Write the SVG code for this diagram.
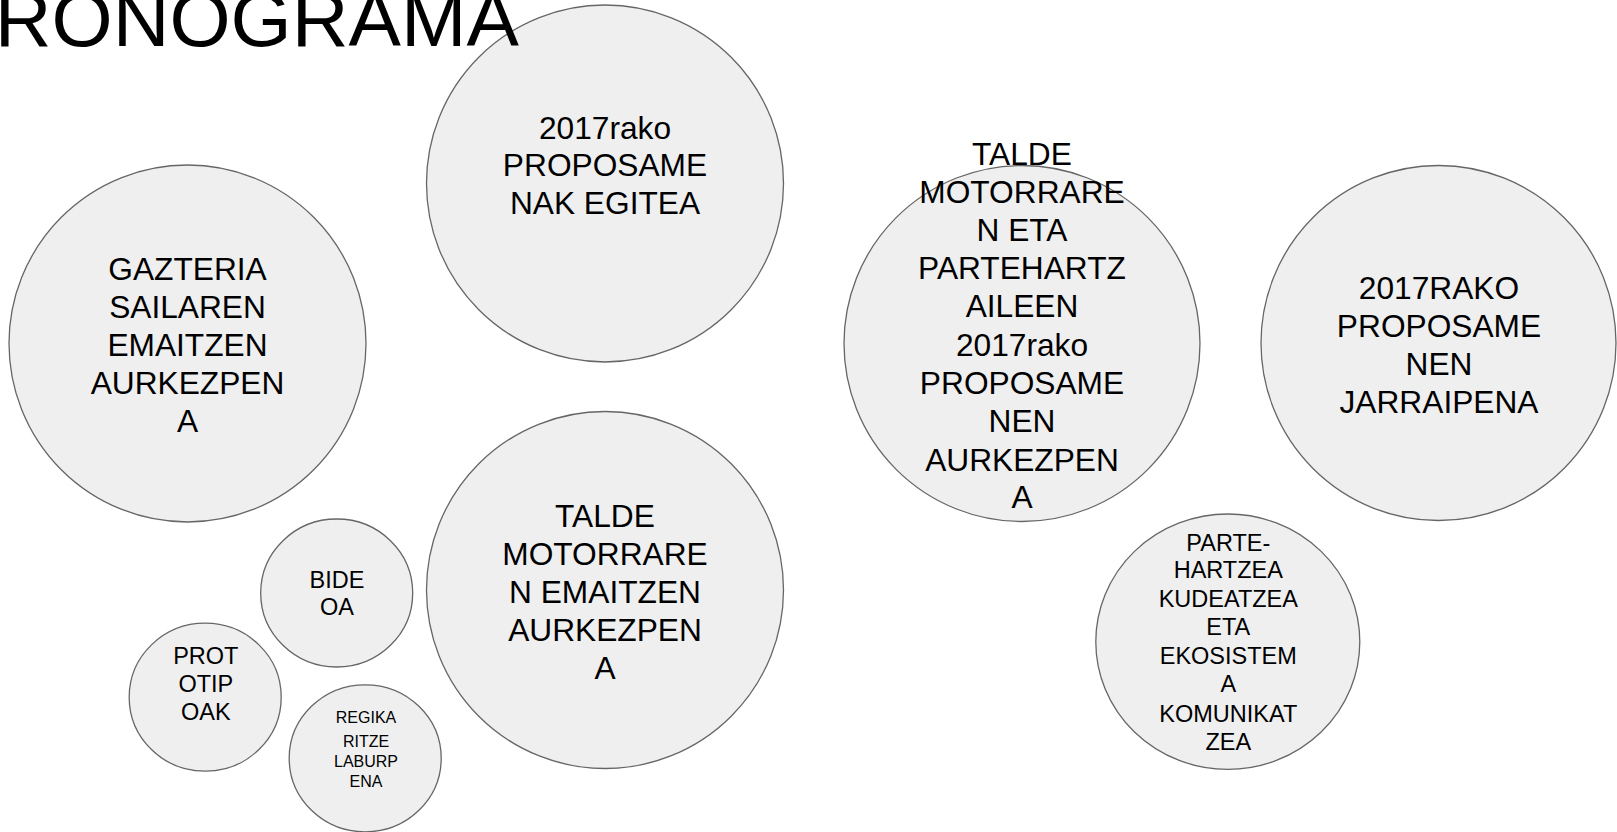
<svg xmlns="http://www.w3.org/2000/svg" width="1617" height="832" viewBox="0 0 1617 832">
<style>
.n{fill:#efefef;stroke:#666;stroke-width:1.3}
text{font-family:"Liberation Sans",Arial,sans-serif;fill:#000;text-anchor:middle}
.L{font-size:31.7px}
.M{font-size:23.5px}
.S{font-size:16px}
.T{font-size:78.6px;text-anchor:start}
</style>
<rect width="1617" height="832" fill="#fff"/>
<g id="connectors"/>
<g id="n-gazteria">
<circle class="n" cx="187.5" cy="343.5" r="178.5"/>
<text class="L" x="187.5"><tspan x="187.5" y="279.5">GAZTERIA</tspan><tspan x="187.5" y="317.5">SAILAREN</tspan><tspan x="187.5" y="355.5">EMAITZEN</tspan><tspan x="187.5" y="393.5">AURKEZPEN</tspan><tspan x="187.5" y="431.5">A</tspan></text>
</g>
<g id="n-proposamenak">
<circle class="n" cx="605" cy="183.5" r="178.5"/>
<text class="L"><tspan x="605" y="138.5">2017rako</tspan><tspan x="605" y="176">PROPOSAME</tspan><tspan x="605" y="213.5">NAK EGITEA</tspan></text>
</g>
<g id="n-talde-emaitzen">
<circle class="n" cx="605" cy="590" r="178.5"/>
<text class="L"><tspan x="605" y="526.5">TALDE</tspan><tspan x="605" y="564.5">MOTORRARE</tspan><tspan x="605" y="602.5">N EMAITZEN</tspan><tspan x="605" y="640.5">AURKEZPEN</tspan><tspan x="605" y="678.5">A</tspan></text>
</g>
<g id="n-talde-partehartzaile">
<circle class="n" cx="1022" cy="343.5" r="178"/>
<text class="L"><tspan x="1022" y="164.5">TALDE</tspan><tspan x="1022" y="202.5">MOTORRARE</tspan><tspan x="1022" y="240.7">N ETA</tspan><tspan x="1022" y="278.9">PARTEHARTZ</tspan><tspan x="1022" y="317.1">AILEEN</tspan><tspan x="1022" y="355.9">2017rako</tspan><tspan x="1022" y="393.5">PROPOSAME</tspan><tspan x="1022" y="431.7">NEN</tspan><tspan x="1022" y="470.5">AURKEZPEN</tspan><tspan x="1022" y="508.3">A</tspan></text>
</g>
<g id="n-jarraipena">
<circle class="n" cx="1438.5" cy="343" r="177.5"/>
<text class="L"><tspan x="1439" y="298.5">2017RAKO</tspan><tspan x="1439" y="336.7">PROPOSAME</tspan><tspan x="1439" y="375">NEN</tspan><tspan x="1439" y="413.3">JARRAIPENA</tspan></text>
</g>
<g id="n-bideoa">
<ellipse class="n" cx="336.7" cy="593" rx="76" ry="74"/>
<text class="M"><tspan x="337" y="588.3">BIDE</tspan><tspan x="337" y="615">OA</tspan></text>
</g>
<g id="n-prototipoak">
<ellipse class="n" cx="205.2" cy="697.2" rx="76" ry="74"/>
<text class="M"><tspan x="205.8" y="664">PROT</tspan><tspan x="205.8" y="692">OTIP</tspan><tspan x="205.8" y="720">OAK</tspan></text>
</g>
<g id="n-regikaritze">
<ellipse class="n" cx="365.2" cy="758.3" rx="76" ry="73.5"/>
<text class="S"><tspan x="366" y="723.3">REGIKA</tspan><tspan x="366" y="747.3">RITZE</tspan><tspan x="366" y="766.5">LABURP</tspan><tspan x="366" y="786.5">ENA</tspan></text>
</g>
<g id="n-partehartzea">
<ellipse class="n" cx="1227.8" cy="641.7" rx="132" ry="127.7"/>
<text class="M"><tspan x="1228.3" y="550.7">PARTE-</tspan><tspan x="1228.3" y="577.5">HARTZEA</tspan><tspan x="1228.3" y="606.5">KUDEATZEA</tspan><tspan x="1228.3" y="635">ETA</tspan><tspan x="1228.3" y="664">EKOSISTEM</tspan><tspan x="1228.3" y="692">A</tspan><tspan x="1228.3" y="721.5">KOMUNIKAT</tspan><tspan x="1228.3" y="750">ZEA</tspan></text>
</g>
<g id="title">
<text class="T" x="-5.2" y="45.7">RONOGRAMA</text>
</g>
</svg>
